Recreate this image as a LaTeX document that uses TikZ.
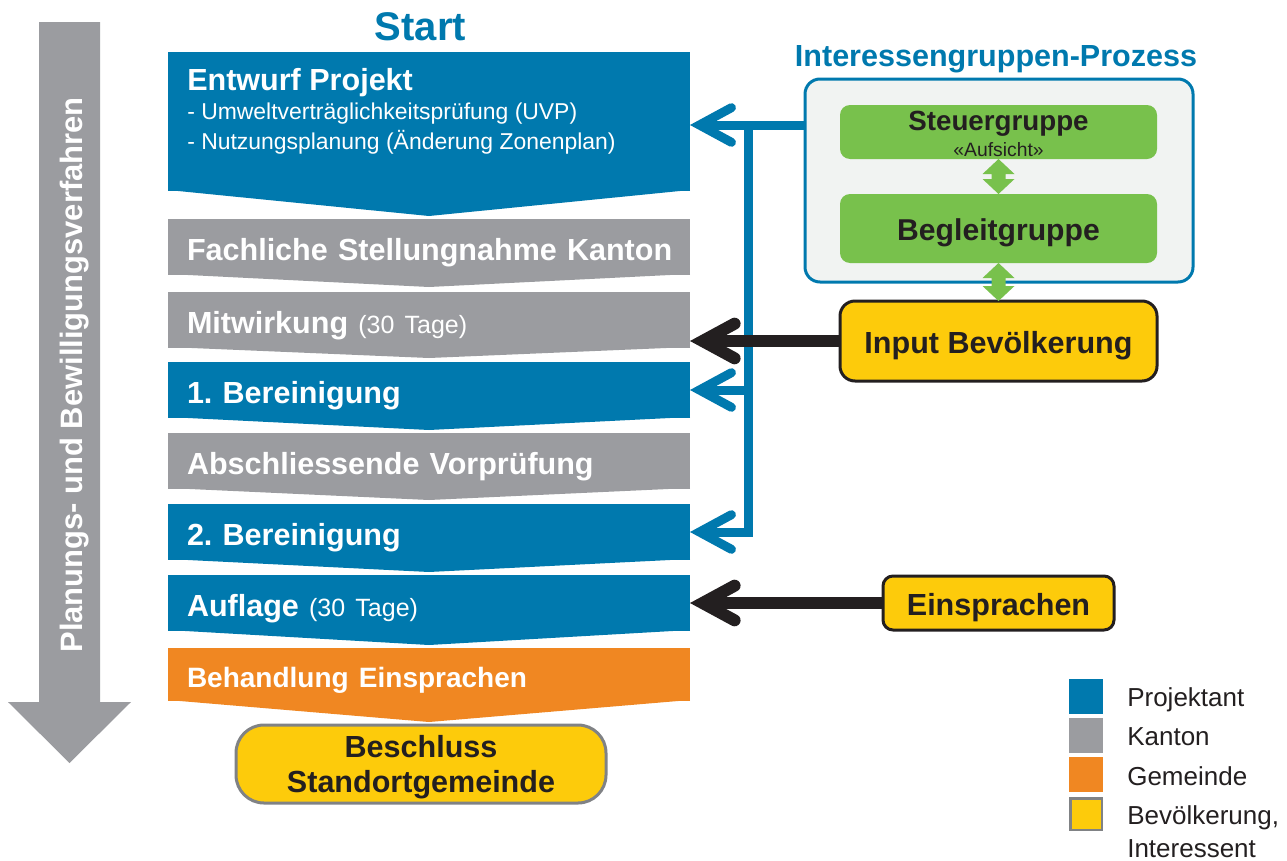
\documentclass[tikz,border=0pt]{standalone}
\usepackage{fontspec}
\setmainfont{Liberation Sans}
\usetikzlibrary{arrows.meta,calc}

\definecolor{pblue}{HTML}{0079AE}
\definecolor{kgray}{HTML}{9B9CA0}
\definecolor{gorange}{HTML}{F08722}
\definecolor{byellow}{HTML}{FDCB0B}
\definecolor{ggreen}{HTML}{78C14C}
\definecolor{boxbg}{HTML}{F1F3F2}
\definecolor{ink}{HTML}{231F20}
\definecolor{lgborder}{HTML}{808285}

\frenchspacing
\hyphenpenalty=10000
\newcommand{\fBig}{\fontsize{22.9}{27}\selectfont\bfseries}
\newcommand{\fStart}{\fontsize{30}{34}\selectfont\bfseries}
\newcommand{\fSub}{\fontsize{17.2}{21}\selectfont}
\newcommand{\fDays}{\fontsize{18.75}{22}\selectfont\mdseries}
\newcommand{\fMid}{\fontsize{21}{25}\selectfont\bfseries}
\newcommand{\fSteu}{\fontsize{20.8}{25}\selectfont\bfseries}
\newcommand{\fTiny}{\fontsize{14.5}{17}\selectfont}
\newcommand{\fLeg}{\fontsize{19.5}{24}\selectfont}
\newcommand{\fSide}{\fontsize{23.2}{27}\selectfont\bfseries}

\tikzset{
  chev/.style={anchor=north west, inner xsep=0pt, inner ysep=0pt, outer sep=0pt,
    text width=522*0.75pt, align=left, minimum height=56*0.75pt, text=white,
    font=\fBig, text height=19.5pt, text depth=0pt},
  gbox/.style={fill=ggreen, rounded corners=10*0.75pt, inner sep=0pt, outer sep=0pt,
    minimum width=317*0.75pt, text=ink},
  ybox/.style={fill=byellow, draw=ink, line width=3*0.75pt, inner sep=0pt, outer sep=0pt,
    text=ink, font=\fBig, text height=19pt, text depth=0pt},
  barb/.tip={Straight Barb[length=24pt, width=26pt, line cap=round]},
  bluearr/.style={draw=pblue, line width=9*0.75pt, -barb},
  bluewire/.style={draw=pblue, line width=9*0.75pt},
  blackarr/.style={draw=ink, line width=12*0.75pt, -barb},
  legsq/.style={minimum width=34*0.75pt, minimum height=35*0.75pt, inner sep=0pt, outer sep=0pt},
  legtxt/.style={anchor=base west, font=\fLeg, text=ink, inner sep=0pt},
}

% one step of the procedure: a bar with a downward pointing lower edge
\newcommand{\chevron}[6]{% name, top, height, tip depth, colour, text
  \node[chev, fill=#5, minimum height=#3*0.75pt] (#1) at (168,#2)
    {\hspace*{14.25pt}#6};
  \fill[#5] ($(#1.south west)+(0,-1)$) -- ($(#1.south east)+(0,-1)$)
    -- ($(#1.south)+(0,#4)$) -- cycle;
}

% green double-headed arrow between two anchors (upper, lower)
\newcommand{\dblarrow}[2]{%
  \fill[ggreen] (#1) -- ++(16,15) -- ++(-9,0) -- ($(#2)+(7,-15)$) -- ++(9,0) -- (#2)
    -- ++(-16,-15) -- ++(9,0) -- ($(#1)+(-7,15)$) -- ++(-9,0) -- cycle;
}

\begin{document}
\begin{tikzpicture}[x=0.75pt,y=-0.75pt]
\useasboundingbox (0,0) rectangle (1287,860);

% big side arrow
\fill[kgray] (39,22) -- (100,22) -- (100,702) -- (131,702) -- (69.5,763)
  -- (8,702) -- (39,702) -- cycle;
\node[rotate=90, anchor=base, font=\fSide, text=white, inner sep=0pt] (side) at (82,375)
  {Planungs- und Bewilligungsverfahren};

% title
\node[anchor=base, font=\fStart, text=pblue, inner sep=0pt] (start) at (420.5,40) {Start};

% first step with its list
\node[chev, fill=pblue, minimum height=139*0.75pt] (entw) at (168,52) {};
\fill[pblue] ($(entw.south west)+(0,-1)$) -- ($(entw.south east)+(0,-1)$)
  -- ($(entw.south)+(0,25)$) -- cycle;
\node[anchor=base west, text=white, font=\fBig, inner sep=0pt] (entwT) at (187,90) {Entwurf Projekt};
\node[anchor=base west, text=white, font=\fSub, inner sep=0pt] (entwA) at (187,119)
  {- Umweltverträglichkeitsprüfung (UVP)};
\node[anchor=base west, text=white, font=\fSub, inner sep=0pt] (entwB) at (187,149)
  {- Nutzungsplanung (Änderung Zonenplan)};

% further steps
\chevron{fach}{219}{56}{12}{kgray}{Fachliche Stellungnahme Kanton}
\chevron{mitw}{292}{56}{10}{kgray}{Mitwirkung {\fDays (30 Tage)}}
\chevron{ber1}{362}{56}{12}{pblue}{1. Bereinigung}
\chevron{absv}{433}{56}{11}{kgray}{Abschliessende Vorprüfung}
\chevron{ber2}{504}{56}{12}{pblue}{2. Bereinigung}
\chevron{aufl}{575}{56}{14}{pblue}{Auflage {\fDays (30 Tage)}}
\chevron{behe}{648}{53}{21}{gorange}{{\fMid Behandlung Einsprachen}}

% final decision
\node[fill=byellow, draw=lgborder, line width=3*0.75pt, rounded corners=28*0.75pt,
  minimum width=370*0.75pt, minimum height=78*0.75pt, inner sep=0pt, outer sep=0pt]
  (besc) at (421,764) {};
\node[align=center, font=\fontsize{22.9}{26.25}\selectfont\bfseries, text=ink,
  inner sep=0pt] (bescT) at (421,767.5) {Beschluss\\Standortgemeinde};

% stakeholder process
\node[anchor=base, font=\fBig, text=pblue, inner sep=0pt] (igpT) at (996,66)
  {Interessengruppen-Prozess};
\node[fill=boxbg, draw=pblue, line width=3*0.75pt, rounded corners=15*0.75pt,
  minimum width=388*0.75pt, minimum height=203*0.75pt, inner sep=0pt, outer sep=0pt]
  (igp) at (999,180.5) {};
\node[gbox, minimum height=54*0.75pt] (steu) at (998.5,132) {};
\node[anchor=base, font=\fSteu, text=ink, inner sep=0pt] (steuT) at (998.5,130) {Steuergruppe};
\node[anchor=base, font=\fTiny, text=ink, inner sep=0pt] (steuA) at (998.5,156) {«Aufsicht»};
\node[gbox, minimum height=69*0.75pt, font=\fontsize{22.6}{26}\selectfont\bfseries,
  text height=18.5pt, text depth=0pt] (begl) at (998.5,228.5) {Begleitgruppe};
\node[ybox, rounded corners=15*0.75pt, minimum width=317*0.75pt, minimum height=80*0.75pt]
  (inpt) at (998.5,341) {Input Bevölkerung};
\node[ybox, rounded corners=10*0.75pt, minimum width=231*0.75pt, minimum height=54*0.75pt]
  (eins) at (998.5,603) {Einsprachen};

\dblarrow{steu.south}{begl.north}
\dblarrow{begl.south}{inpt.north}

% feedback from the stakeholder process
\coordinate (jn) at (748,125);
\draw[bluearr] (igp.west |- jn) -- (entw.east |- jn);
\draw[bluewire, line join=miter, -barb] (jn) -- (jn |- ber2.east) -- (ber2.east);
\draw[bluearr] (jn |- ber1.east) -- (ber1.east);

% input from the public
\draw[blackarr] (inpt.west) -- (inpt.west -| mitw.east);
\draw[blackarr] (eins.west) -- (eins.west -| aufl.east);

% legend
\node[legsq, fill=pblue] (lgP) at (1086,696.5) {};
\node[legsq, fill=kgray] (lgK) at (1086,735.5) {};
\node[legsq, fill=gorange] (lgG) at (1086,774.5) {};
\node[legsq, fill=byellow, draw=lgborder, line width=2.5*0.75pt,
  minimum width=31.5*0.75pt, minimum height=31.5*0.75pt] (lgB) at (1086,814) {};
\node[legtxt] (lgPt) at (1127,706) {Projektant};
\node[legtxt] (lgKt) at (1127,745) {Kanton};
\node[legtxt] (lgGt) at (1127,785) {Gemeinde};
\node[legtxt] (lgBt) at (1127,824) {Bevölkerung,};
\node[legtxt] (lgIt) at (1127,857) {Interessent};
\end{tikzpicture}
\end{document}
